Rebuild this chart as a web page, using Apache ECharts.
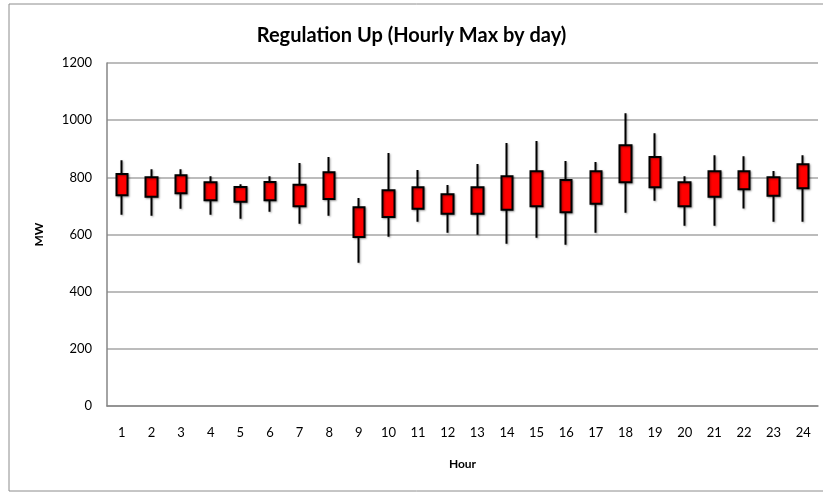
<!DOCTYPE html>
<html>
<head>
<meta charset="utf-8">
<script src="https://cdn.jsdelivr.net/npm/echarts@6/dist/echarts.min.js"></script>
<style>
html,body{margin:0;padding:0;background:#fff;}
#c{width:823px;height:492px;}
</style>
</head>
<body>
<div id="c"></div>
<script>
const hours = ['1','2','3','4','5','6','7','8','9','10','11','12','13','14','15','16','17','18','19','20','21','22','23','24'];
// box top, box bottom, wick low, wick high
const boxTop    = [812, 800, 807, 783, 766, 784, 774, 818, 695, 755, 765, 741, 765, 804, 821, 791, 821, 912, 871, 783, 821, 821, 800, 846];
const boxBottom = [737, 732, 744, 720, 715, 720, 699, 724, 591, 661, 690, 673, 673, 687, 699, 678, 708, 783, 765, 699, 732, 758, 736, 762];
const lows      = [669, 666, 690, 669, 655, 680, 638, 666, 501, 592, 645, 606, 599, 568, 589, 564, 606, 676, 718, 631, 631, 691, 645, 645];
const highs     = [860, 828, 828, 804, 776, 804, 850, 871, 728, 885, 826, 773, 847, 920, 927, 857, 854, 1024, 954, 804, 877, 874, 822, 877];
const yTicks = [0, 200, 400, 600, 800, 1000, 1200];

const candleData = hours.map((h, i) => [boxBottom[i], boxTop[i], lows[i], highs[i]]);

const chart = echarts.init(document.getElementById('c'), null, {renderer: 'canvas'});
const font = 'Lato, "Open Sans", sans-serif';
chart.setOption({
  animation: false,
  backgroundColor: '#fff',
  title: {
    text: 'Regulation Up (Hourly Max by day)',
    left: 'center',
    top: 21,
    textStyle: {fontFamily: font, fontSize: 20, fontWeight: 'bold', color: '#000'}
  },
  graphic: [{
    type: 'rect',
    shape: {x: 9, y: 4, width: 830, height: 487},
    style: {fill: 'none', stroke: '#8c8c8c', lineWidth: 1},
    silent: true
  }],
  grid: {left: 107, right: 5, top: 63, bottom: 86, containLabel: false},
  xAxis: {
    type: 'category',
    data: hours,
    name: 'Hour',
    nameLocation: 'middle',
    nameGap: 52,
    nameTextStyle: {fontFamily: font, fontSize: 12, fontWeight: 'bold', color: '#000'},
    axisLine: {lineStyle: {color: '#868686', width: 1.5}},
    axisTick: {show: false},
    axisLabel: {fontFamily: font, fontSize: 13, color: '#000', margin: 20, interval: 0},
    splitLine: {show: false}
  },
  yAxis: {
    type: 'value',
    min: 0,
    max: 1200,
    interval: 200,
    name: 'MW',
    nameLocation: 'middle',
    nameRotate: 90,
    nameGap: 62,
    nameTextStyle: {fontFamily: font, fontSize: 12, fontWeight: 'bold', color: '#000'},
    axisLine: {show: true, lineStyle: {color: '#868686', width: 1.5}},
    axisTick: {show: false},
    axisLabel: {fontFamily: font, fontSize: 13, color: '#000', margin: 15,
      formatter: v => yTicks.includes(v) ? String(v) : ''},
    splitLine: {lineStyle: {color: '#a6a6a6', width: 1.5}}
  },
  series: [{
    type: 'candlestick',
    data: candleData,
    barWidth: 12,
    itemStyle: {
      color: '#ff0000',
      color0: '#ff0000',
      borderColor: '#000',
      borderColor0: '#000',
      borderWidth: 2,
      shadowColor: 'rgba(0,0,0,0.35)',
      shadowBlur: 2,
      shadowOffsetX: 1,
      shadowOffsetY: 1
    }
  }]
});
</script>
</body>
</html>
